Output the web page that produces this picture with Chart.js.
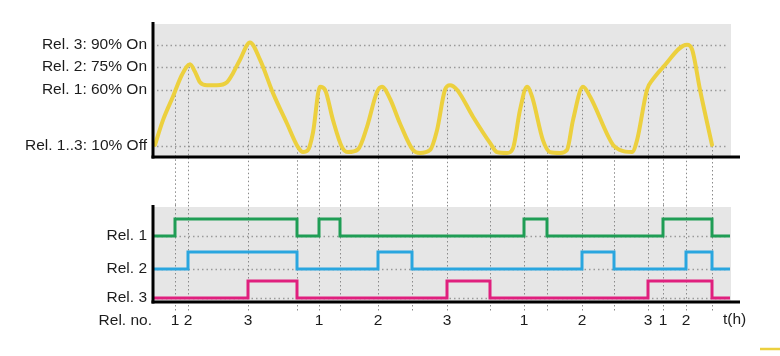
<!DOCTYPE html>
<html><head><meta charset="utf-8">
<script src="https://cdn.jsdelivr.net/npm/chart.js@4.4.0/dist/chart.umd.min.js"></script>
<style>
html,body{margin:0;padding:0;background:#fff;}
#wrap{position:relative;width:780px;height:356px;overflow:hidden;}
#topc{position:absolute;left:0;top:0;}
#botc{position:absolute;left:0;top:205px;}
</style></head><body>
<div id="wrap"><canvas id="topc" width="780" height="205"></canvas><canvas id="botc" width="780" height="151"></canvas></div>
<script>
// ---- data ----
const levelTicks = [10, 60, 75, 90];
const levelLabels = ['Rel. 1..3: 10% Off', 'Rel. 1: 60% On', 'Rel. 2: 75% On', 'Rel. 3: 90% On'];
const curveT = [1,9,19,28,36,41,46,53,63,73,79,86,96,106,119,133,144,149,154,159,166,171,179,188,194,204,213,223,228,236,246,259,266,276,283,291,296,303,319,336,343,353,359,366,373,378,389,396,406,413,419,429,436,459,466,478,483,493,499,509,533,538,546,558];
const curveP = [11,33,54,70,77,72,65,63,63,65,71,80,91.5,80,57,30,9,4.6,6.4,22,62,60,33,9,4.6,7,27,58,62,52,30,6.4,3.8,6.4,24,60,63,60,36,12.7,4.6,3.8,8,42,62,54,15,4.6,3.8,6.4,33,62,54,11,6.4,4.6,15,60,67,75,90,87,60,11];
const relayLabels = ['Rel. 1', 'Rel. 2', 'Rel. 3'];
const rel1T = [0,21,143,165,186,370,393,509,558,576];
const rel1S = [0,1,0,1,0,1,0,1,0,0];
const rel2T = [0,34,143,224,258,428,460,532,558,576];
const rel2S = [0,1,0,1,0,1,0,1,0,0];
const rel3T = [0,94,143,293,336,494,558,576];
const rel3S = [0,1,0,1,0,1,0,0];
const eventT = [21,34,94,143,165,186,224,258,293,336,370,393,428,460,494,509,532,558];
const eventP = [55,76,90,8,60,8,60,8,60,8,60,8,60,8,60,75,90,10];
const eventLabels = ['1','2','3','','1','','2','','3','','1','','2','','3','1','2',''];
const T_MAX = 577;

// ---- style / layout ----
const FONT_FAMILY = "'Liberation Sans', Arial, Helvetica, sans-serif";
const FONT = {family: FONT_FAMILY, size: 15.5};
const TXT = '#1c1c1c';
const BG = '#e6e6e6';
const relBase = [66, 33, 4];
const relHigh = 17;
const lvl = p => p <= 60 ? (p - 10) / 20 : 2.5 + (p - 60) / 15;

function dotted(ctx, x1, y1, x2, y2, color, w, dash) {
  ctx.save();
  ctx.strokeStyle = color; ctx.lineWidth = w; ctx.setLineDash(dash);
  ctx.beginPath(); ctx.moveTo(x1, y1); ctx.lineTo(x2, y2); ctx.stroke();
  ctx.restore();
}
function axes(chart) {
  const {ctx, chartArea: a} = chart;
  ctx.save();
  ctx.strokeStyle = '#000'; ctx.lineWidth = 3; ctx.setLineDash([]);
  ctx.beginPath(); ctx.moveTo(a.left - 1, a.top - 2); ctx.lineTo(a.left - 1, a.bottom + 1.5); ctx.stroke();
  ctx.beginPath(); ctx.moveTo(a.left - 2.5, a.bottom); ctx.lineTo(a.right + 9, a.bottom); ctx.stroke();
  ctx.restore();
}
function noPad(s) { s.paddingTop = 0; s.paddingBottom = 0; s.paddingLeft = 0; s.paddingRight = 0; }

const topDeco = {
  id: 'topDeco',
  beforeDatasetsDraw(chart) {
    const {ctx, chartArea: a, scales: {x, y}} = chart;
    ctx.save();
    ctx.fillStyle = BG; ctx.fillRect(a.left, a.top, a.right - a.left, a.bottom - a.top);
    ctx.restore();
    levelTicks.forEach(p => {
      const yy = Math.round(y.getPixelForValue(lvl(p))) + 0.5;
      dotted(ctx, a.left + 3, yy, a.right - 4, yy, '#9a9a9a', 1.5, [1.5, 3]);
    });
    eventT.forEach((t, i) => {
      const xx = Math.round(x.getPixelForValue(t)) + 0.5;
      dotted(ctx, xx, y.getPixelForValue(lvl(eventP[i])), xx, chart.height, '#8a8a8a', 1, [1.5, 2.5]);
    });
  },
  afterDraw(chart) { axes(chart); }
};

const botDeco = {
  id: 'botDeco',
  beforeDatasetsDraw(chart) {
    const {ctx, chartArea: a, scales: {x, y}} = chart;
    ctx.save();
    ctx.fillStyle = BG; ctx.fillRect(a.left, a.top, a.right - a.left, a.bottom - a.top);
    ctx.restore();
    relBase.forEach(b => {
      const yy = Math.round(y.getPixelForValue(b)) + 0.5;
      dotted(ctx, a.left + 3, yy, a.right - 4, yy, '#9a9a9a', 1.5, [1.5, 3]);
    });
    eventT.forEach(t => {
      const xx = Math.round(x.getPixelForValue(t)) + 0.5;
      dotted(ctx, xx, 0, xx, a.bottom + 9, '#8a8a8a', 1, [1.5, 2.5]);
    });
  },
  afterDraw(chart) {
    axes(chart);
    const {ctx, chartArea: a} = chart;
    ctx.save();
    ctx.font = '15.5px ' + FONT_FAMILY; ctx.fillStyle = TXT; ctx.textBaseline = 'top';
    ctx.textAlign = 'right'; ctx.fillText('Rel. no.', a.left - 2, a.bottom + 11);
    ctx.textAlign = 'left'; ctx.fillText('t(h)', a.right - 8, a.bottom + 10);
    ctx.strokeStyle = '#ecd03e'; ctx.lineWidth = 2.5;
    ctx.beginPath(); ctx.moveTo(chart.width - 20, chart.height - 7); ctx.lineTo(chart.width, chart.height - 7); ctx.stroke();
    ctx.restore();
  }
};

new Chart(document.getElementById('topc'), {
  type: 'line',
  data: {
    datasets: [{
      data: curveT.map((t, i) => ({x: t, y: lvl(curveP[i])})),
      borderColor: '#ecd03e', borderWidth: 4, pointRadius: 0,
      cubicInterpolationMode: 'monotone', borderCapStyle: 'round', borderJoinStyle: 'round'
    }]
  },
  options: {
    responsive: false, animation: false, devicePixelRatio: 1,
    layout: {padding: {left: 0, right: 49, top: 24, bottom: 48}},
    plugins: {legend: {display: false}, tooltip: {enabled: false}},
    scales: {
      x: {type: 'linear', min: 0, max: T_MAX, display: false},
      y: {
        type: 'linear', min: -0.489, max: 5.42,
        afterFit(s) { s.width = 154; noPad(s); },
        afterBuildTicks(s) { s.ticks = levelTicks.map(p => ({value: lvl(p)})); },
        ticks: {callback: (v, i) => levelLabels[i], font: FONT, color: TXT, padding: 7},
        grid: {display: false, drawTicks: false},
        border: {display: false}
      }
    }
  },
  plugins: [topDeco]
});

const relT = [rel1T, rel2T, rel3T];
const relS = [rel1S, rel2S, rel3S];
const relColors = ['#1f9d55', '#2aa6df', '#e0207e'];
new Chart(document.getElementById('botc'), {
  type: 'line',
  data: {
    datasets: relT.map((ts, r) => ({
      data: ts.map((t, i) => ({x: t, y: relBase[r] + relS[r][i] * relHigh})),
      stepped: 'before', borderColor: relColors[r], borderWidth: 3, pointRadius: 0
    }))
  },
  options: {
    responsive: false, animation: false, devicePixelRatio: 1,
    layout: {padding: {left: 0, right: 49, top: 2, bottom: 0}},
    plugins: {legend: {display: false}, tooltip: {enabled: false}},
    scales: {
      x: {
        type: 'linear', min: 0, max: T_MAX,
        afterFit(s) { s.height = 54; noPad(s); },
        afterBuildTicks(s) { s.ticks = eventT.map(t => ({value: t})); },
        ticks: {callback: (v, i) => eventLabels[i], font: FONT, color: TXT, padding: 9, autoSkip: false, maxRotation: 0, minRotation: 0},
        grid: {display: false, drawTicks: false},
        border: {display: false}
      },
      y: {
        type: 'linear', min: 0, max: 95,
        afterFit(s) { s.width = 154; noPad(s); },
        afterBuildTicks(s) { s.ticks = relBase.map(b => ({value: b})); },
        ticks: {callback: (v, i) => relayLabels[i], font: FONT, color: TXT, padding: 7},
        grid: {display: false, drawTicks: false},
        border: {display: false}
      }
    }
  },
  plugins: [botDeco]
});
</script>
</body></html>
